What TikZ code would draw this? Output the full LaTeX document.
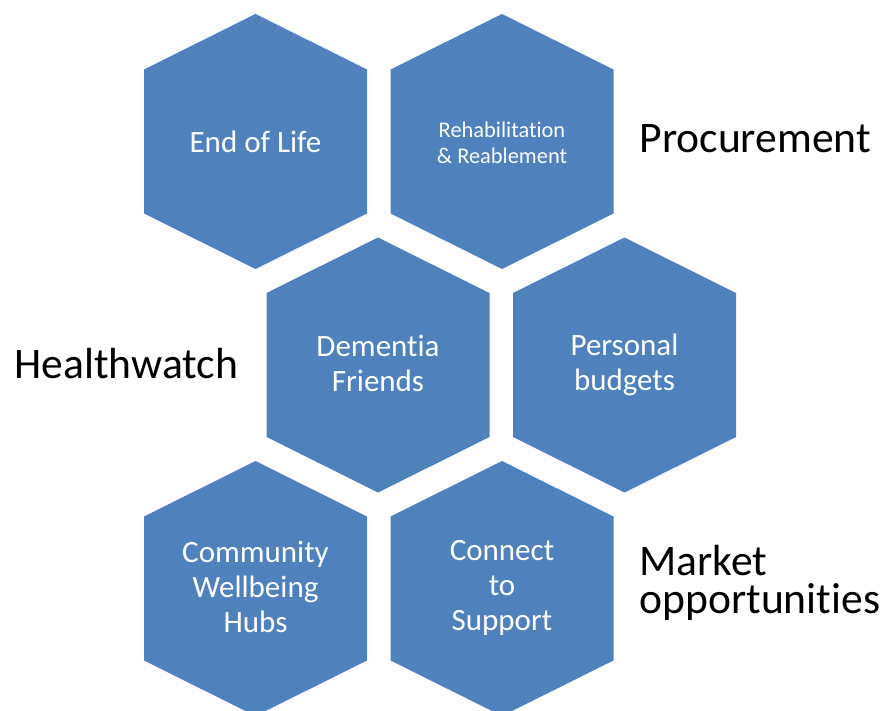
\documentclass[tikz,border=0pt]{standalone}
\usepackage{fontspec}
\setmainfont{Carlito}[Ligatures=NoCommon]
\definecolor{hexblue}{RGB}{79,129,189}

\begin{document}
\begin{tikzpicture}[x=1pt,y=-1pt,
  cellfill/.style={fill=hexblue},
  celltext/.style={text=white,align=center,font=\fontsize{31}{35}\selectfont},
  sidetext/.style={align=left,font=\fontsize{43.6}{38}\selectfont}]
\useasboundingbox (0,0) rectangle (885,711);
% honeycomb
\foreach \cx/\cy in {255.5/141.5,502/141.5,378/365,624.5/365,255.5/588.5,502/588.5}
  \fill[cellfill] (\cx,\cy-127.5) -- ++(111.5,55.5) -- ++(0,144)
    -- ++(-111.5,55.5) -- ++(-111.5,-55.5) -- ++(0,-144) -- cycle;
\node[celltext] (eol) at (255.5,141.5) {End of Life};
\node[celltext,font=\fontsize{22.4}{26}\selectfont] (rehab) at (502,143) {Rehabilitation\\\& Reablement};
\node[celltext] (dementia) at (378,363) {Dementia\\Friends};
\node[celltext] (budgets) at (624.5,365) {Personal\\budgets};
\node[celltext] (hubs) at (255.5,587) {Community\\Wellbeing\\Hubs};
\node[celltext] (connect) at (502,588) {Connect\\to\\Support};
% side labels
\node[sidetext,anchor=base west] (procure) at (636,153) {Procurement};
\node[sidetext,anchor=base west] (hwatch) at (11,378) {Healthwatch};
\node[sidetext,anchor=base west] (market) at (636,613) {Market\\opportunities};
\end{tikzpicture}
\end{document}
